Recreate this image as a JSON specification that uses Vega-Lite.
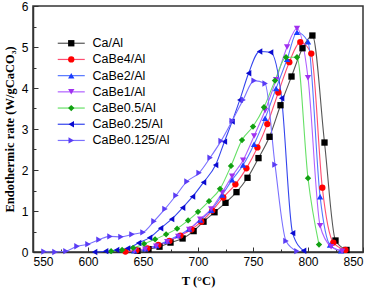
{
  "$schema": "https://vega.github.io/schema/vega-lite/v6.json",
  "width": 330,
  "height": 246,
  "autosize": {"type": "none"},
  "padding": {"left": 33, "top": 6, "right": 10, "bottom": 40},
  "background": "white",
  "config": {
    "view": {"stroke": "#333333", "strokeWidth": 1.5},
    "axis": {
      "domainColor": "#333333",
      "domainWidth": 1.5,
      "tickColor": "#333333",
      "tickWidth": 1,
      "labelFont": "Liberation Sans",
      "labelFontSize": 12,
      "labelColor": "#000000",
      "titleFont": "Liberation Serif",
      "titleFontWeight": "bold",
      "titleFontSize": 12.5,
      "titleColor": "#000000",
      "grid": false
    },
    "legend": {
      "labelFont": "Liberation Sans",
      "labelFontSize": 12.5,
      "labelColor": "#000000",
      "padding": 0,
      "symbolOffset": 0
    }
  },
  "data": {
    "values": [
      {"s": "Ca/Al", "T": 645, "v": 0.03}, {"s": "Ca/Al", "T": 655, "v": 0.07}, {"s": "Ca/Al", "T": 665, "v": 0.13}, {"s": "Ca/Al", "T": 675, "v": 0.23}, {"s": "Ca/Al", "T": 686, "v": 0.33}, {"s": "Ca/Al", "T": 696, "v": 0.51}, {"s": "Ca/Al", "T": 705, "v": 0.74}, {"s": "Ca/Al", "T": 715, "v": 0.97}, {"s": "Ca/Al", "T": 725, "v": 1.2}, {"s": "Ca/Al", "T": 735, "v": 1.46}, {"s": "Ca/Al", "T": 745, "v": 1.81}, {"s": "Ca/Al", "T": 755, "v": 2.29}, {"s": "Ca/Al", "T": 765, "v": 2.81}, {"s": "Ca/Al", "T": 775, "v": 3.58}, {"s": "Ca/Al", "T": 785, "v": 4.28}, {"s": "Ca/Al", "T": 795, "v": 4.97}, {"s": "Ca/Al", "T": 804, "v": 5.28}, {"s": "Ca/Al", "T": 815, "v": 2.67}, {"s": "Ca/Al", "T": 825, "v": 0.28}, {"s": "Ca/Al", "T": 835, "v": 0.05},
      {"s": "CaBe4/Al", "T": 634, "v": 0.01}, {"s": "CaBe4/Al", "T": 644, "v": 0.04}, {"s": "CaBe4/Al", "T": 654, "v": 0.09}, {"s": "CaBe4/Al", "T": 664, "v": 0.17}, {"s": "CaBe4/Al", "T": 674, "v": 0.27}, {"s": "CaBe4/Al", "T": 684, "v": 0.4}, {"s": "CaBe4/Al", "T": 694, "v": 0.55}, {"s": "CaBe4/Al", "T": 703, "v": 0.74}, {"s": "CaBe4/Al", "T": 713, "v": 1.01}, {"s": "CaBe4/Al", "T": 723, "v": 1.33}, {"s": "CaBe4/Al", "T": 734, "v": 1.65}, {"s": "CaBe4/Al", "T": 744, "v": 2.04}, {"s": "CaBe4/Al", "T": 754, "v": 2.55}, {"s": "CaBe4/Al", "T": 763, "v": 3.12}, {"s": "CaBe4/Al", "T": 773, "v": 3.89}, {"s": "CaBe4/Al", "T": 783, "v": 4.63}, {"s": "CaBe4/Al", "T": 793, "v": 5.12}, {"s": "CaBe4/Al", "T": 803, "v": 4.84}, {"s": "CaBe4/Al", "T": 813, "v": 1.57}, {"s": "CaBe4/Al", "T": 823, "v": 0.23}, {"s": "CaBe4/Al", "T": 834, "v": 0.05},
      {"s": "CaBe2/Al", "T": 642, "v": 0.03}, {"s": "CaBe2/Al", "T": 652, "v": 0.08}, {"s": "CaBe2/Al", "T": 662, "v": 0.16}, {"s": "CaBe2/Al", "T": 672, "v": 0.27}, {"s": "CaBe2/Al", "T": 682, "v": 0.4}, {"s": "CaBe2/Al", "T": 692, "v": 0.56}, {"s": "CaBe2/Al", "T": 702, "v": 0.78}, {"s": "CaBe2/Al", "T": 712, "v": 1.02}, {"s": "CaBe2/Al", "T": 722, "v": 1.39}, {"s": "CaBe2/Al", "T": 731, "v": 1.76}, {"s": "CaBe2/Al", "T": 741, "v": 2.12}, {"s": "CaBe2/Al", "T": 751, "v": 2.63}, {"s": "CaBe2/Al", "T": 761, "v": 3.26}, {"s": "CaBe2/Al", "T": 771, "v": 3.99}, {"s": "CaBe2/Al", "T": 781, "v": 4.7}, {"s": "CaBe2/Al", "T": 790, "v": 5.36}, {"s": "CaBe2/Al", "T": 800, "v": 5.13}, {"s": "CaBe2/Al", "T": 811, "v": 1.35}, {"s": "CaBe2/Al", "T": 820, "v": 0.17}, {"s": "CaBe2/Al", "T": 830, "v": 0.03},
      {"s": "CaBe1/Al", "T": 642, "v": 0.03}, {"s": "CaBe1/Al", "T": 652, "v": 0.07}, {"s": "CaBe1/Al", "T": 662, "v": 0.14}, {"s": "CaBe1/Al", "T": 672, "v": 0.25}, {"s": "CaBe1/Al", "T": 682, "v": 0.38}, {"s": "CaBe1/Al", "T": 692, "v": 0.55}, {"s": "CaBe1/Al", "T": 702, "v": 0.8}, {"s": "CaBe1/Al", "T": 712, "v": 1.05}, {"s": "CaBe1/Al", "T": 722, "v": 1.45}, {"s": "CaBe1/Al", "T": 731, "v": 1.85}, {"s": "CaBe1/Al", "T": 741, "v": 2.24}, {"s": "CaBe1/Al", "T": 751, "v": 2.83}, {"s": "CaBe1/Al", "T": 761, "v": 3.45}, {"s": "CaBe1/Al", "T": 771, "v": 4.2}, {"s": "CaBe1/Al", "T": 781, "v": 5.0}, {"s": "CaBe1/Al", "T": 790, "v": 5.45}, {"s": "CaBe1/Al", "T": 800, "v": 4.25}, {"s": "CaBe1/Al", "T": 811, "v": 0.64}, {"s": "CaBe1/Al", "T": 821, "v": 0.13}, {"s": "CaBe1/Al", "T": 831, "v": 0.02},
      {"s": "CaBe0.5/Al", "T": 621, "v": 0.02}, {"s": "CaBe0.5/Al", "T": 631, "v": 0.05}, {"s": "CaBe0.5/Al", "T": 641, "v": 0.1}, {"s": "CaBe0.5/Al", "T": 651, "v": 0.2}, {"s": "CaBe0.5/Al", "T": 661, "v": 0.31}, {"s": "CaBe0.5/Al", "T": 671, "v": 0.43}, {"s": "CaBe0.5/Al", "T": 681, "v": 0.57}, {"s": "CaBe0.5/Al", "T": 691, "v": 0.77}, {"s": "CaBe0.5/Al", "T": 700, "v": 0.98}, {"s": "CaBe0.5/Al", "T": 710, "v": 1.24}, {"s": "CaBe0.5/Al", "T": 720, "v": 1.54}, {"s": "CaBe0.5/Al", "T": 730, "v": 2.1}, {"s": "CaBe0.5/Al", "T": 740, "v": 2.73}, {"s": "CaBe0.5/Al", "T": 750, "v": 3.06}, {"s": "CaBe0.5/Al", "T": 760, "v": 3.53}, {"s": "CaBe0.5/Al", "T": 770, "v": 4.18}, {"s": "CaBe0.5/Al", "T": 780, "v": 4.75}, {"s": "CaBe0.5/Al", "T": 790, "v": 4.75}, {"s": "CaBe0.5/Al", "T": 800, "v": 1.8}, {"s": "CaBe0.5/Al", "T": 810, "v": 0.18},
      {"s": "CaBe0.25/Al", "T": 606, "v": 0.0}, {"s": "CaBe0.25/Al", "T": 616, "v": 0.02}, {"s": "CaBe0.25/Al", "T": 626, "v": 0.05}, {"s": "CaBe0.25/Al", "T": 636, "v": 0.09}, {"s": "CaBe0.25/Al", "T": 646, "v": 0.22}, {"s": "CaBe0.25/Al", "T": 656, "v": 0.35}, {"s": "CaBe0.25/Al", "T": 666, "v": 0.58}, {"s": "CaBe0.25/Al", "T": 676, "v": 0.8}, {"s": "CaBe0.25/Al", "T": 686, "v": 1.08}, {"s": "CaBe0.25/Al", "T": 695, "v": 1.35}, {"s": "CaBe0.25/Al", "T": 705, "v": 1.7}, {"s": "CaBe0.25/Al", "T": 716, "v": 2.12}, {"s": "CaBe0.25/Al", "T": 724, "v": 2.69}, {"s": "CaBe0.25/Al", "T": 731, "v": 3.18}, {"s": "CaBe0.25/Al", "T": 738, "v": 3.71}, {"s": "CaBe0.25/Al", "T": 746, "v": 4.36}, {"s": "CaBe0.25/Al", "T": 756, "v": 4.89}, {"s": "CaBe0.25/Al", "T": 766, "v": 4.87}, {"s": "CaBe0.25/Al", "T": 776, "v": 3.75}, {"s": "CaBe0.25/Al", "T": 786, "v": 0.46}, {"s": "CaBe0.25/Al", "T": 796, "v": 0.03},
      {"s": "CaBe0.125/Al", "T": 560, "v": 0.01}, {"s": "CaBe0.125/Al", "T": 570, "v": 0.0}, {"s": "CaBe0.125/Al", "T": 580, "v": 0.02}, {"s": "CaBe0.125/Al", "T": 590, "v": 0.14}, {"s": "CaBe0.125/Al", "T": 600, "v": 0.19}, {"s": "CaBe0.125/Al", "T": 610, "v": 0.3}, {"s": "CaBe0.125/Al", "T": 620, "v": 0.38}, {"s": "CaBe0.125/Al", "T": 630, "v": 0.37}, {"s": "CaBe0.125/Al", "T": 640, "v": 0.43}, {"s": "CaBe0.125/Al", "T": 650, "v": 0.48}, {"s": "CaBe0.125/Al", "T": 660, "v": 0.75}, {"s": "CaBe0.125/Al", "T": 670, "v": 1.05}, {"s": "CaBe0.125/Al", "T": 680, "v": 1.38}, {"s": "CaBe0.125/Al", "T": 690, "v": 1.72}, {"s": "CaBe0.125/Al", "T": 701, "v": 1.93}, {"s": "CaBe0.125/Al", "T": 711, "v": 2.3}, {"s": "CaBe0.125/Al", "T": 721, "v": 2.71}, {"s": "CaBe0.125/Al", "T": 731, "v": 3.2}, {"s": "CaBe0.125/Al", "T": 741, "v": 3.71}, {"s": "CaBe0.125/Al", "T": 751, "v": 4.18}, {"s": "CaBe0.125/Al", "T": 761, "v": 4.11}, {"s": "CaBe0.125/Al", "T": 770, "v": 2.13}, {"s": "CaBe0.125/Al", "T": 780, "v": 0.27}, {"s": "CaBe0.125/Al", "T": 790, "v": 0.02}
    ]
  },
  "encoding": {
    "x": {
      "field": "T", "type": "quantitative",
      "scale": {"domain": [550, 850], "nice": false, "zero": false},
      "axis": {
        "title": "T (°C)",
        "values": [550, 575, 600, 625, 650, 675, 700, 725, 750, 775, 800, 825, 850],
        "tickSize": {"condition": {"test": "datum.value % 50 === 0", "value": -5}, "value": -3},
        "labelExpr": "datum.value % 50 === 0 ? datum.label : ''",
        "labelPadding": 9,
        "titlePadding": 7
      }
    },
    "y": {
      "field": "v", "type": "quantitative",
      "scale": {"domain": [0, 6], "nice": false},
      "axis": {
        "title": "Endothermic rate (W/gCaCO₃)",
        "values": [0, 0.5, 1, 1.5, 2, 2.5, 3, 3.5, 4, 4.5, 5, 5.5, 6],
        "tickSize": {"condition": {"test": "datum.value % 1 === 0", "value": -5}, "value": -3},
        "labelExpr": "datum.value % 1 === 0 ? format(datum.value, 'd') : ''",
        "labelPadding": 10,
        "titlePadding": 5
      }
    }
  },
  "layer": [
    {
      "mark": {"type": "line", "interpolate": "monotone", "strokeWidth": 1.1},
      "encoding": {
        "stroke": {
          "field": "s", "type": "nominal",
          "scale": {
            "domain": ["Ca/Al", "CaBe4/Al", "CaBe2/Al", "CaBe1/Al", "CaBe0.5/Al", "CaBe0.25/Al", "CaBe0.125/Al", "zz"],
            "range": ["#555555", "#ff4d70", "#5577ff", "#b060ff", "#66e066", "#3344ee", "#7a70ff", "#ffffff"]
          },
          "legend": {
            "title": null, "orient": "none", "legendX": 32, "legendY": 31,
            "values": ["Ca/Al", "CaBe4/Al", "CaBe2/Al", "CaBe1/Al", "CaBe0.5/Al", "CaBe0.25/Al", "CaBe0.125/Al"],
            "symbolType": "M-4.27,0H4.27", "symbolSize": 40, "symbolStrokeWidth": 1.2,
            "symbolFillColor": "transparent",
            "labelOpacity": 0, "labelOffset": 15, "rowPadding": 3.2
          }
        }
      }
    },
    {
      "mark": {"type": "point", "filled": true, "size": 40, "opacity": 1},
      "encoding": {
        "color": {
          "field": "s", "type": "nominal",
          "scale": {
            "domain": ["Ca/Al", "CaBe4/Al", "CaBe2/Al", "CaBe1/Al", "CaBe0.5/Al", "CaBe0.25/Al", "CaBe0.125/Al"],
            "range": ["#000000", "#ff0000", "#1a3cff", "#a030f0", "#11a011", "#0a0ad0", "#5a3cf5"]
          },
          "legend": {
            "title": null, "orient": "none", "legendX": 32, "legendY": 31,
            "symbolSize": 40, "labelOffset": 15, "rowPadding": 3.2, "symbolOpacity": 1
          }
        },
        "shape": {
          "field": "s", "type": "nominal",
          "scale": {
            "domain": ["Ca/Al", "CaBe4/Al", "CaBe2/Al", "CaBe1/Al", "CaBe0.5/Al", "CaBe0.25/Al", "CaBe0.125/Al"],
            "range": ["square", "circle", "triangle-up", "triangle-down", "diamond", "triangle-left", "triangle-right"]
          }
        }
      }
    }
  ]
}
